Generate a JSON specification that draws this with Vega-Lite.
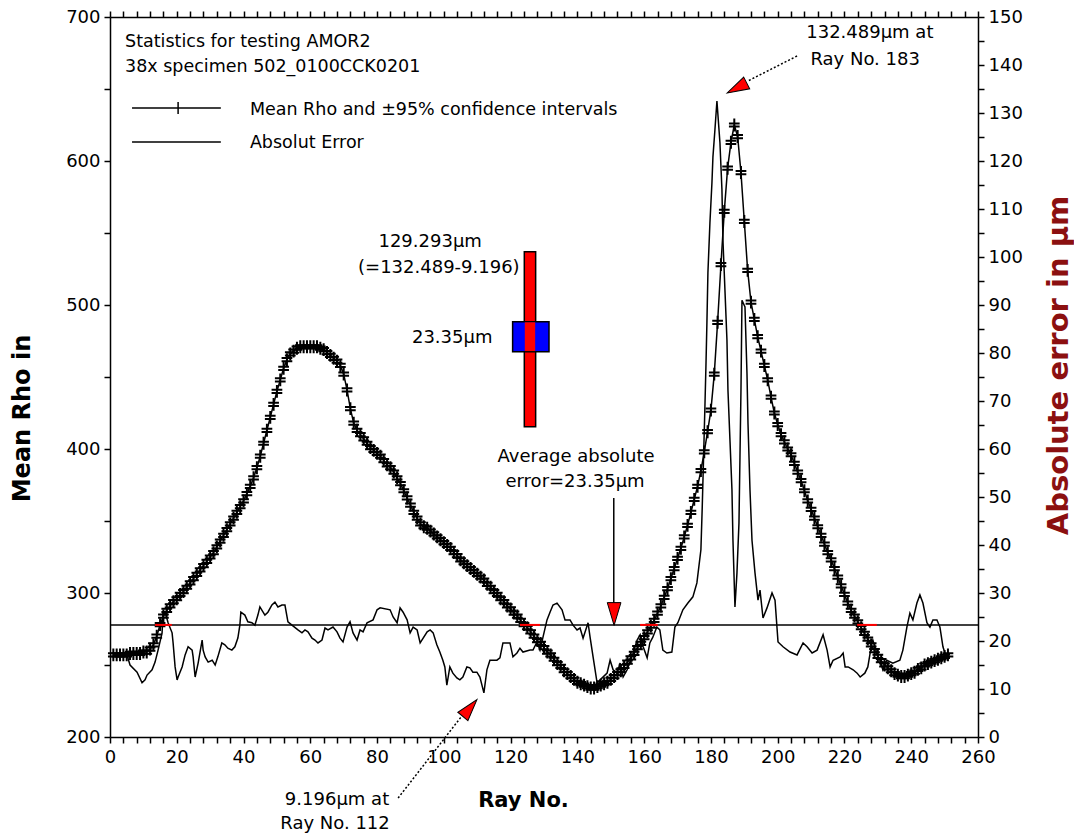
{
"$schema":"https://vega.github.io/schema/vega-lite/v6.json",
"width":868,"height":720,
"autosize":{"type":"none"},
"padding":{"left":110,"top":17,"right":96,"bottom":100},
"background":"white",
"config":{"view":{"stroke":null},"font":"DejaVu Sans",
"axis":{"domainColor":"black","tickColor":"black","labelColor":"black","titleColor":"black","grid":false,"domainWidth":1.5,"tickWidth":1.5,"labelFont":"DejaVu Sans","labelFontSize":18,"titleFont":"DejaVu Sans","titleFontSize":21,"titleFontWeight":"bold","tickSize":6,"labelOverlap":false,"labelFlush":false}},
"datasets":{
"rho":[{"x":1,"y":257},{"x":2,"y":257},{"x":3,"y":257},{"x":4,"y":257},{"x":5,"y":257},{"x":6,"y":258},{"x":7,"y":258},{"x":8,"y":258},{"x":9,"y":258},{"x":10,"y":259},{"x":11,"y":259},{"x":12,"y":261},{"x":13,"y":264},{"x":14,"y":270},{"x":15,"y":278},{"x":16,"y":284},{"x":17,"y":288},{"x":18,"y":291},{"x":19,"y":294},{"x":20,"y":296},{"x":21,"y":299},{"x":22,"y":301},{"x":23,"y":304},{"x":24,"y":307},{"x":25,"y":310},{"x":26,"y":313},{"x":27,"y":316},{"x":28,"y":319},{"x":29,"y":322},{"x":30,"y":325},{"x":31,"y":328},{"x":32,"y":332},{"x":33,"y":336},{"x":34,"y":340},{"x":35,"y":344},{"x":36,"y":348},{"x":37,"y":352},{"x":38,"y":356},{"x":39,"y":360},{"x":40,"y":364},{"x":41,"y":369},{"x":42,"y":374},{"x":43,"y":380},{"x":44,"y":387},{"x":45,"y":395},{"x":46,"y":404},{"x":47,"y":413},{"x":48,"y":422},{"x":49,"y":431},{"x":50,"y":440},{"x":51,"y":448},{"x":52,"y":456},{"x":53,"y":462},{"x":54,"y":466},{"x":55,"y":468},{"x":56,"y":470},{"x":57,"y":471},{"x":58,"y":471},{"x":59,"y":471},{"x":60,"y":471},{"x":61,"y":471},{"x":62,"y":471},{"x":63,"y":470},{"x":64,"y":469},{"x":65,"y":467},{"x":66,"y":465},{"x":67,"y":463},{"x":68,"y":461},{"x":69,"y":458},{"x":70,"y":452},{"x":71,"y":441},{"x":72,"y":428},{"x":73,"y":418},{"x":74,"y":413},{"x":75,"y":410},{"x":76,"y":407},{"x":77,"y":404},{"x":78,"y":401},{"x":79,"y":399},{"x":80,"y":397},{"x":81,"y":395},{"x":82,"y":392},{"x":83,"y":389},{"x":84,"y":387},{"x":85,"y":384},{"x":86,"y":380},{"x":87,"y":376},{"x":88,"y":371},{"x":89,"y":366},{"x":90,"y":361},{"x":91,"y":356},{"x":92,"y":352},{"x":93,"y":348},{"x":94,"y":346},{"x":95,"y":345},{"x":96,"y":343},{"x":97,"y":341},{"x":98,"y":339},{"x":99,"y":337},{"x":100,"y":335},{"x":101,"y":333},{"x":102,"y":331},{"x":103,"y":328},{"x":104,"y":326},{"x":105,"y":323},{"x":106,"y":321},{"x":107,"y":319},{"x":108,"y":317},{"x":109,"y":315},{"x":110,"y":313},{"x":111,"y":311},{"x":112,"y":309},{"x":113,"y":306},{"x":114,"y":304},{"x":115,"y":301},{"x":116,"y":299},{"x":117,"y":296},{"x":118,"y":294},{"x":119,"y":291},{"x":120,"y":289},{"x":121,"y":286},{"x":122,"y":284},{"x":123,"y":281},{"x":124,"y":278},{"x":125,"y":276},{"x":126,"y":273},{"x":127,"y":270},{"x":128,"y":267},{"x":129,"y":265},{"x":130,"y":262},{"x":131,"y":259},{"x":132,"y":257},{"x":133,"y":254},{"x":134,"y":251},{"x":135,"y":249},{"x":136,"y":246},{"x":137,"y":244},{"x":138,"y":242},{"x":139,"y":240},{"x":140,"y":238},{"x":141,"y":237},{"x":142,"y":236},{"x":143,"y":235},{"x":144,"y":234},{"x":145,"y":234},{"x":146,"y":235},{"x":147,"y":236},{"x":148,"y":237},{"x":149,"y":238},{"x":150,"y":240},{"x":151,"y":242},{"x":152,"y":244},{"x":153,"y":246},{"x":154,"y":249},{"x":155,"y":252},{"x":156,"y":255},{"x":157,"y":258},{"x":158,"y":262},{"x":159,"y":265},{"x":160,"y":269},{"x":161,"y":273},{"x":162,"y":277},{"x":163,"y":281},{"x":164,"y":286},{"x":165,"y":291},{"x":166,"y":297},{"x":167,"y":303},{"x":168,"y":310},{"x":169,"y":317},{"x":170,"y":324},{"x":171,"y":331},{"x":172,"y":339},{"x":173,"y":347},{"x":174,"y":356},{"x":175,"y":365},{"x":176,"y":374},{"x":177,"y":385},{"x":178,"y":398},{"x":179,"y":412},{"x":180,"y":427},{"x":181,"y":452},{"x":182,"y":488},{"x":183,"y":528},{"x":184,"y":565},{"x":185,"y":595},{"x":186,"y":613},{"x":187,"y":625},{"x":188,"y":617},{"x":189,"y":592},{"x":190,"y":558},{"x":191,"y":524},{"x":192,"y":502},{"x":193,"y":490},{"x":194,"y":478},{"x":195,"y":468},{"x":196,"y":458},{"x":197,"y":448},{"x":198,"y":436},{"x":199,"y":425},{"x":200,"y":417},{"x":201,"y":410},{"x":202,"y":405},{"x":203,"y":400},{"x":204,"y":396},{"x":205,"y":390},{"x":206,"y":384},{"x":207,"y":378},{"x":208,"y":371},{"x":209,"y":364},{"x":210,"y":358},{"x":211,"y":352},{"x":212,"y":346},{"x":213,"y":340},{"x":214,"y":334},{"x":215,"y":328},{"x":216,"y":323},{"x":217,"y":317},{"x":218,"y":311},{"x":219,"y":305},{"x":220,"y":299},{"x":221,"y":293},{"x":222,"y":288},{"x":223,"y":284},{"x":224,"y":280},{"x":225,"y":276},{"x":226,"y":272},{"x":227,"y":268},{"x":228,"y":264},{"x":229,"y":260},{"x":230,"y":256},{"x":231,"y":253},{"x":232,"y":250},{"x":233,"y":248},{"x":234,"y":246},{"x":235,"y":244},{"x":236,"y":243},{"x":237,"y":242},{"x":238,"y":242},{"x":239,"y":243},{"x":240,"y":244},{"x":241,"y":245},{"x":242,"y":247},{"x":243,"y":248},{"x":244,"y":250},{"x":245,"y":251},{"x":246,"y":252},{"x":247,"y":253},{"x":248,"y":254},{"x":249,"y":255},{"x":250,"y":256},{"x":251,"y":257}],
"err":[{"x":1,"e":17.1},{"x":5.1,"e":17.1},{"x":6.0,"e":15.0},{"x":8.1,"e":13.5},{"x":9.6,"e":11.3},{"x":10.5,"e":11.9},{"x":11.1,"e":12.9},{"x":12.6,"e":14.0},{"x":13.5,"e":15.6},{"x":14.4,"e":18.1},{"x":15.6,"e":21.7},{"x":15.9,"e":26.0},{"x":16.5,"e":26.0},{"x":17.4,"e":23.8},{"x":18.6,"e":21.7},{"x":18.9,"e":19.6},{"x":19.5,"e":14.6},{"x":20.1,"e":11.9},{"x":20.4,"e":12.5},{"x":21.6,"e":14.6},{"x":22.5,"e":17.1},{"x":23.4,"e":18.8},{"x":24.6,"e":18.1},{"x":24.9,"e":16.7},{"x":25.5,"e":12.5},{"x":26.4,"e":15.4},{"x":27.6,"e":20.2},{"x":27.9,"e":18.1},{"x":28.5,"e":16.7},{"x":29.4,"e":15.6},{"x":30.6,"e":16.0},{"x":31.5,"e":15.0},{"x":32.3,"e":16.7},{"x":33.5,"e":19.6},{"x":34.4,"e":19.2},{"x":35.3,"e":18.5},{"x":36.5,"e":18.1},{"x":37.4,"e":18.8},{"x":38.3,"e":20.6},{"x":38.9,"e":23.3},{"x":39.2,"e":26.0},{"x":40.4,"e":25.4},{"x":41.3,"e":24.0},{"x":42.5,"e":23.8},{"x":43.4,"e":23.3},{"x":44.3,"e":25.4},{"x":44.9,"e":27.1},{"x":46.4,"e":25.4},{"x":47.3,"e":26.0},{"x":48.5,"e":27.5},{"x":49.4,"e":28.1},{"x":50.3,"e":27.1},{"x":51.5,"e":27.5},{"x":52.4,"e":27.5},{"x":53.3,"e":24.0},{"x":54.5,"e":23.3},{"x":56.3,"e":22.3},{"x":57.5,"e":21.7},{"x":58.4,"e":22.3},{"x":59.3,"e":21.9},{"x":60.5,"e":20.6},{"x":61.4,"e":20.2},{"x":62.3,"e":19.6},{"x":63.5,"e":20.2},{"x":64.4,"e":22.7},{"x":65.3,"e":22.3},{"x":66.8,"e":22.9},{"x":68.0,"e":21.9},{"x":68.9,"e":20.6},{"x":69.8,"e":19.8},{"x":71.0,"e":22.9},{"x":71.9,"e":24.0},{"x":72.8,"e":21.7},{"x":74.0,"e":20.2},{"x":74.9,"e":22.3},{"x":75.8,"e":21.9},{"x":77.0,"e":23.8},{"x":78.8,"e":24.4},{"x":80.0,"e":26.5},{"x":80.9,"e":26.9},{"x":83.9,"e":26.5},{"x":84.8,"e":25.0},{"x":86.0,"e":23.8},{"x":86.9,"e":26.9},{"x":87.8,"e":26.0},{"x":89.0,"e":24.4},{"x":89.9,"e":21.7},{"x":90.8,"e":22.9},{"x":92.0,"e":22.3},{"x":92.9,"e":19.6},{"x":95.0,"e":21.9},{"x":95.9,"e":22.3},{"x":96.8,"e":21.7},{"x":97.9,"e":19.2},{"x":98.8,"e":17.7},{"x":99.7,"e":16.0},{"x":100.3,"e":14.6},{"x":100.9,"e":10.8},{"x":101.8,"e":14.6},{"x":102.7,"e":13.3},{"x":103.9,"e":12.3},{"x":104.8,"e":11.9},{"x":105.7,"e":12.5},{"x":106.9,"e":14.6},{"x":107.8,"e":14.4},{"x":108.7,"e":13.5},{"x":109.9,"e":13.5},{"x":110.8,"e":12.5},{"x":112.0,"e":9.2},{"x":112.9,"e":14.0},{"x":113.8,"e":16.0},{"x":115.9,"e":16.0},{"x":116.8,"e":16.5},{"x":117.7,"e":19.6},{"x":119.8,"e":19.6},{"x":120.7,"e":16.7},{"x":121.9,"e":17.5},{"x":122.8,"e":18.5},{"x":123.7,"e":17.7},{"x":125.8,"e":18.1},{"x":126.7,"e":18.1},{"x":127.9,"e":19.8},{"x":128.8,"e":18.1},{"x":129.7,"e":20.8},{"x":130.9,"e":24.4},{"x":131.8,"e":26.0},{"x":132.7,"e":27.5},{"x":133.9,"e":27.9},{"x":135.4,"e":26.5},{"x":136.3,"e":24.4},{"x":137.8,"e":24.4},{"x":138.7,"e":23.3},{"x":139.9,"e":22.3},{"x":140.8,"e":22.7},{"x":141.7,"e":20.6},{"x":143.2,"e":23.8},{"x":143.8,"e":20.8},{"x":144.7,"e":16.7},{"x":145.9,"e":11.3},{"x":146.8,"e":11.9},{"x":148.9,"e":13.3},{"x":149.8,"e":16.0},{"x":150.7,"e":14.0},{"x":151.9,"e":13.3},{"x":152.8,"e":15.4},{"x":153.7,"e":12.5},{"x":154.9,"e":14.0},{"x":156.7,"e":17.5},{"x":157.9,"e":20.2},{"x":158.8,"e":21.3},{"x":159.7,"e":18.8},{"x":160.9,"e":16.5},{"x":161.7,"e":19.6},{"x":162.6,"e":20.8},{"x":163.8,"e":22.9},{"x":164.7,"e":22.3},{"x":165.6,"e":18.1},{"x":166.8,"e":17.5},{"x":168.3,"e":17.7},{"x":169.2,"e":22.9},{"x":170.1,"e":23.8},{"x":171.6,"e":26.5},{"x":173.1,"e":27.9},{"x":174.6,"e":29.2},{"x":175.8,"e":32.1},{"x":177.0,"e":39.0},{"x":177.4,"e":47.9},{"x":177.8,"e":58.3},{"x":178.2,"e":68.8},{"x":178.5,"e":77.1},{"x":178.8,"e":86.3},{"x":179.1,"e":96.7},{"x":179.7,"e":107.1},{"x":180.3,"e":115.4},{"x":180.6,"e":120.8},{"x":181.2,"e":126.5},{"x":181.8,"e":132.5},{"x":182.7,"e":123.8},{"x":183.3,"e":114.0},{"x":183.6,"e":103.5},{"x":184.2,"e":93.1},{"x":184.8,"e":82.7},{"x":185.1,"e":72.3},{"x":185.7,"e":61.9},{"x":186.3,"e":51.5},{"x":186.6,"e":41.0},{"x":187.2,"e":27.1},{"x":187.8,"e":34.2},{"x":188.4,"e":44.6},{"x":188.7,"e":58.3},{"x":189.0,"e":72.3},{"x":189.3,"e":91.0},{"x":190.2,"e":89.6},{"x":190.8,"e":75.8},{"x":191.1,"e":65.4},{"x":191.7,"e":51.5},{"x":192.3,"e":41.0},{"x":193.2,"e":34.2},{"x":194.1,"e":28.5},{"x":194.7,"e":30.6},{"x":195.6,"e":24.8},{"x":196.8,"e":26.9},{"x":198.3,"e":30.0},{"x":199.2,"e":28.5},{"x":200.1,"e":19.8},{"x":201.6,"e":18.8},{"x":203.7,"e":17.7},{"x":205.8,"e":17.1},{"x":207.6,"e":19.6},{"x":208.8,"e":18.8},{"x":210.3,"e":17.5},{"x":211.8,"e":18.1},{"x":213.6,"e":21.3},{"x":214.8,"e":18.1},{"x":215.7,"e":14.6},{"x":216.6,"e":16.0},{"x":218.7,"e":16.7},{"x":219.6,"e":17.5},{"x":220.2,"e":14.6},{"x":221.1,"e":14.6},{"x":222.6,"e":14.0},{"x":223.8,"e":13.3},{"x":224.7,"e":12.5},{"x":226.1,"e":13.3},{"x":227.0,"e":14.6},{"x":228.2,"e":19.6},{"x":228.5,"e":20.2},{"x":229.7,"e":17.5},{"x":230.6,"e":16.0},{"x":231.5,"e":14.0},{"x":232.7,"e":16.0},{"x":234.5,"e":15.4},{"x":236.6,"e":16.0},{"x":237.5,"e":18.1},{"x":238.7,"e":22.9},{"x":239.6,"e":25.8},{"x":240.5,"e":24.4},{"x":241.7,"e":27.9},{"x":242.6,"e":29.6},{"x":243.5,"e":27.9},{"x":244.7,"e":23.8},{"x":245.6,"e":22.9},{"x":246.5,"e":24.4},{"x":247.7,"e":24.4},{"x":248.6,"e":22.9},{"x":249.5,"e":18.8},{"x":250.1,"e":17.5}],
"avg":[{"e":23.35}],
"redSeg":[{"x":13.5,"x2":18.5,"e":23.35},{"x":122.8,"x2":128.8,"e":23.35},{"x":158.8,"x2":164.1,"e":23.35},{"x":223.8,"x2":229.7,"e":23.35}],
"annLeft":[{"x":4.5,"y":682.6,"t":"Statistics for testing AMOR2"},{"x":4.5,"y":665.3,"t":"38x specimen 502_0100CCK0201"},{"x":41.9,"y":635.4,"t":"Mean Rho and ±95% confidence intervals"},{"x":41.9,"y":612.5,"t":"Absolut Error"}],
"annCenter":[{"x":95.9,"y":543.8,"t":"129.293μm"},{"x":98.5,"y":525.7,"t":"(=132.489-9.196)"},{"x":102.5,"y":477,"t":"23.35μm"},{"x":139.6,"y":394.4,"t":"Average absolute"},{"x":139.3,"y":377.1,"t":"error=23.35μm"},{"x":227.6,"y":688.9,"t":"132.489μm at"},{"x":226.2,"y":670.1,"t":"Ray No. 183"},{"x":68,"y":156.3,"t":"9.196μm at"},{"x":67.4,"y":139.6,"t":"Ray No. 112"}],
"legLines":[{"x":6.6,"x2":33.2,"y":636.8},{"x":6.6,"x2":33.2,"y":613.2}],
"legTick":[{"x":20.4,"y":641,"y2":632.6}],
"arrowSolid":[{"x":150.9,"y":366,"y2":291}],
"arrowDashed":[{"x":86.3,"y":157.6,"x2":105.4,"y2":214.6},{"x":205.8,"y":672.9,"x2":191.1,"y2":655.6}],
"head1":[{"x":151.0,"y":285.4}],
"head2":[{"x":107.8,"y":220.1}],
"head3":[{"x":187.8,"y":650.7}],
"redBar":[{"x":124.1,"x2":127.5,"y":537.0,"y2":415.5}],
"blueBox":[{"x":120.6,"x2":131.5,"y":488.4,"y2":467.6}],
"redStrip":[{"x":124.25,"x2":127.35,"y":488.0,"y2":468.0}]
},
"layer":[
{"layer":[
 {"data":{"name":"rho"},"mark":{"type":"line","color":"black","strokeWidth":1.5,"clip":false},
  "encoding":{
   "x":{"field":"x","type":"quantitative","scale":{"domain":[0,260],"nice":false,"zero":false},
        "axis":{"orient":"bottom","title":"Ray No.","tickCount":200,"values":[0,4,8,12,16,20,24,28,32,36,40,44,48,52,56,60,64,68,72,76,80,84,88,92,96,100,104,108,112,116,120,124,128,132,136,140,144,148,152,156,160,164,168,172,176,180,184,188,192,196,200,204,208,212,216,220,224,228,232,236,240,244,248,252,256,260],
        "labelExpr":"datum.value % 20 === 0 ? datum.label : ''","labelOverlap":false,"labelPadding":5,"titleX":413,"titleY":63,"titleBaseline":"middle","titleFontSize":21}},
   "y":{"field":"y","type":"quantitative","scale":{"domain":[200,700],"nice":false,"zero":false},
        "axis":{"orient":"left","title":"Mean Rho in","tickCount":200,"values":[200,250,300,350,400,450,500,550,600,650,700],
        "labelExpr":"datum.value % 100 === 0 ? datum.label : ''","labelOverlap":false,"labelPadding":4,"titleX":-88,"titleY":401,"titleAngle":-90,"titleBaseline":"middle","titleAlign":"center","titleFontSize":24}}}},
 {"data":{"name":"rho"},"mark":{"type":"point","shape":"M0,-1.2L0,1.2M-1,-0.3L1,-0.3M-1,0.3L1,0.3","filled":false,"stroke":"black","strokeWidth":2,"size":115,"opacity":1,"clip":false},
  "encoding":{"x":{"field":"x","type":"quantitative","scale":{"domain":[0,260]}},"y":{"field":"y","type":"quantitative","scale":{"domain":[200,700]}}}},
 {"data":{"name":"legLines"},"mark":{"type":"rule","color":"black","strokeWidth":1.5,"clip":false},
  "encoding":{"x":{"field":"x","type":"quantitative","scale":{"domain":[0,260]}},"x2":{"field":"x2"},"y":{"field":"y","type":"quantitative","scale":{"domain":[200,700]}}}},
 {"data":{"name":"legTick"},"mark":{"type":"rule","color":"black","strokeWidth":1.5,"clip":false},
  "encoding":{"x":{"field":"x","type":"quantitative","scale":{"domain":[0,260]}},"y":{"field":"y","type":"quantitative","scale":{"domain":[200,700]}},"y2":{"field":"y2"}}},
 {"data":{"name":"arrowSolid"},"mark":{"type":"rule","color":"black","strokeWidth":1.5,"clip":false},
  "encoding":{"x":{"field":"x","type":"quantitative","scale":{"domain":[0,260]}},"y":{"field":"y","type":"quantitative","scale":{"domain":[200,700]}},"y2":{"field":"y2"}}},
 {"data":{"name":"arrowDashed"},"mark":{"type":"rule","color":"black","strokeWidth":1.5,"strokeDash":[2,2],"clip":false},
  "encoding":{"x":{"field":"x","type":"quantitative","scale":{"domain":[0,260]}},"x2":{"field":"x2"},"y":{"field":"y","type":"quantitative","scale":{"domain":[200,700]}},"y2":{"field":"y2"}}},
 {"data":{"name":"head1"},"mark":{"type":"point","shape":"M-0.6,-1L0.6,-1L0,1Z","filled":true,"fill":"#ff0000","stroke":"black","strokeWidth":1,"size":520,"opacity":1,"angle":0,"clip":false},
  "encoding":{"x":{"field":"x","type":"quantitative","scale":{"domain":[0,260]}},"y":{"field":"y","type":"quantitative","scale":{"domain":[200,700]}}}},
 {"data":{"name":"head2"},"mark":{"type":"point","shape":"M-0.6,-1L0.6,-1L0,1Z","filled":true,"fill":"#ff0000","stroke":"black","strokeWidth":1,"size":480,"opacity":1,"angle":220,"clip":false},
  "encoding":{"x":{"field":"x","type":"quantitative","scale":{"domain":[0,260]}},"y":{"field":"y","type":"quantitative","scale":{"domain":[200,700]}}}},
 {"data":{"name":"head3"},"mark":{"type":"point","shape":"M-0.6,-1L0.6,-1L0,1Z","filled":true,"fill":"#ff0000","stroke":"black","strokeWidth":1,"size":480,"opacity":1,"angle":62.8,"clip":false},
  "encoding":{"x":{"field":"x","type":"quantitative","scale":{"domain":[0,260]}},"y":{"field":"y","type":"quantitative","scale":{"domain":[200,700]}}}},
 {"data":{"name":"redBar"},"mark":{"type":"rect","fill":"#ff0000","stroke":"black","strokeWidth":1.5,"clip":false},
  "encoding":{"x":{"field":"x","type":"quantitative","scale":{"domain":[0,260]}},"x2":{"field":"x2"},"y":{"field":"y","type":"quantitative","scale":{"domain":[200,700]}},"y2":{"field":"y2"}}},
 {"data":{"name":"blueBox"},"mark":{"type":"rect","fill":"#0000ff","stroke":"black","strokeWidth":1.5,"clip":false},
  "encoding":{"x":{"field":"x","type":"quantitative","scale":{"domain":[0,260]}},"x2":{"field":"x2"},"y":{"field":"y","type":"quantitative","scale":{"domain":[200,700]}},"y2":{"field":"y2"}}},
 {"data":{"name":"redStrip"},"mark":{"type":"rect","fill":"#ff0000","clip":false},
  "encoding":{"x":{"field":"x","type":"quantitative","scale":{"domain":[0,260]}},"x2":{"field":"x2"},"y":{"field":"y","type":"quantitative","scale":{"domain":[200,700]}},"y2":{"field":"y2"}}},
 {"data":{"name":"annLeft"},"mark":{"type":"text","align":"left","baseline":"middle","font":"DejaVu Sans","fontSize":17.5,"color":"black","clip":false},
  "encoding":{"x":{"field":"x","type":"quantitative","scale":{"domain":[0,260]}},"y":{"field":"y","type":"quantitative","scale":{"domain":[200,700]}},"text":{"field":"t"}}},
 {"data":{"name":"annCenter"},"mark":{"type":"text","align":"center","baseline":"middle","font":"DejaVu Sans","fontSize":18,"color":"black","clip":false},
  "encoding":{"x":{"field":"x","type":"quantitative","scale":{"domain":[0,260]}},"y":{"field":"y","type":"quantitative","scale":{"domain":[200,700]}},"text":{"field":"t"}}}
]},
{"layer":[
 {"data":{"name":"err"},"mark":{"type":"line","color":"black","strokeWidth":1.5,"clip":false},
  "encoding":{
   "x":{"field":"x","type":"quantitative","scale":{"domain":[0,260],"nice":false,"zero":false},
        "axis":{"orient":"top","title":null,"labels":false,"tickCount":200,"values":[0,4,8,12,16,20,24,28,32,36,40,44,48,52,56,60,64,68,72,76,80,84,88,92,96,100,104,108,112,116,120,124,128,132,136,140,144,148,152,156,160,164,168,172,176,180,184,188,192,196,200,204,208,212,216,220,224,228,232,236,240,244,248,252,256,260]}},
   "y":{"field":"e","type":"quantitative","scale":{"domain":[0,150],"nice":false,"zero":false},
        "axis":{"orient":"right","title":"Absolute error in μm","titleColor":"#8b1010","tickCount":200,"values":[0,5,10,15,20,25,30,35,40,45,50,55,60,65,70,75,80,85,90,95,100,105,110,115,120,125,130,135,140,145,150],
        "labelExpr":"datum.value % 10 === 0 ? datum.label : ''","labelOverlap":false,"labelPadding":4,"titleX":80,"titleY":348,"titleAngle":-90,"titleBaseline":"middle","titleAlign":"center","titleFontSize":29}}}},
 {"data":{"name":"avg"},"mark":{"type":"rule","color":"black","strokeWidth":1.5},
  "encoding":{"y":{"field":"e","type":"quantitative","scale":{"domain":[0,150]}}}},
 {"data":{"name":"redSeg"},"mark":{"type":"rule","color":"#ff0000","strokeWidth":2},
  "encoding":{"x":{"field":"x","type":"quantitative","scale":{"domain":[0,260]}},"x2":{"field":"x2"},"y":{"field":"e","type":"quantitative","scale":{"domain":[0,150]}}}}
]}
],
"resolve":{"scale":{"y":"independent"},"axis":{"x":"independent","y":"independent"}}
}
